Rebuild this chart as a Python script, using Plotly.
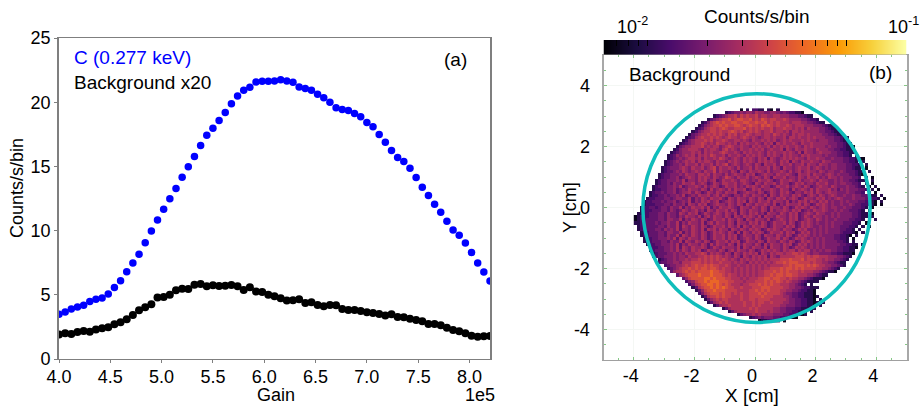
import plotly.graph_objects as go
import math

W, H = 922, 407

gain = [4.0 + 0.06 * i for i in range(71)]
carbon = [3.48,3.66,3.9,4.05,4.18,4.47,4.65,4.75,5.06,5.56,6.1,6.8,7.48,8.15,9.06,9.97,10.83,11.66,
          12.48,13.27,14.15,14.98,15.77,16.62,17.43,17.97,18.57,19.2,19.87,20.49,20.94,21.17,21.58,
          21.64,21.64,21.66,21.74,21.66,21.56,21.19,21.06,20.94,20.62,20.34,20.0,19.56,19.43,19.35,
          19.12,18.86,18.42,18.08,17.48,16.88,16.23,15.69,15.38,14.86,14.13,13.38,12.73,12.05,11.43,
          10.73,10.05,9.64,9.04,8.29,7.48,6.78,6.08]
background = [1.9,2.0,1.95,2.1,2.18,2.13,2.29,2.39,2.47,2.7,2.86,3.09,3.43,3.79,4.03,4.26,4.78,4.83,
              5.0,5.35,5.48,5.45,5.79,5.84,5.66,5.74,5.69,5.71,5.77,5.66,5.38,5.58,5.25,5.22,5.0,4.88,
              4.73,4.55,4.57,4.65,4.36,4.42,4.21,4.1,4.21,4.18,3.9,3.82,3.82,3.74,3.64,3.58,3.51,3.38,
              3.48,3.27,3.25,3.14,3.04,2.94,2.73,2.73,2.62,2.44,2.26,2.16,2.0,1.82,1.74,1.77,1.79]
x_ticks_a = [4, 4.5, 5, 5.5, 6, 6.5, 7, 7.5, 8]
x_labels_a = ["4.0", "4.5", "5.0", "5.5", "6.0", "6.5", "7.0", "7.5", "8.0"]
y_ticks_a = [0, 5, 10, 15, 20, 25]
ticks_b = [-4, -2, 0, 2, 4]
labels_b = ["-4", "-2", "0", "2", "4"]

# counts per bin: one digit per 0.1 cm cell, top row first
level_counts = [0.007,0.010,0.013,0.016,0.020,0.025,0.031,0.038,0.047,0.060]
map_x = [-3.95 + 0.1 * j for j in range(84)]
map_y = [3.25 - 0.1 * i for i in range(71)]
map_rows = [
 "."*35 + "0.1.2211.10.1",
 "."*30 + "12344545546554455434322110",
 "."*26 + "123456675767667566556655544433211",
 "."*24 + "1345677867887786768767766765555443221.",
 "."*22 + "12467878778877887787786767666566655443211",
 "."*21 + "124567787877887678776878767667656665554443211",
 "."*20 + "12356776787667778676767667566766565646555443211",
 "."*19 + "1245667767667876756767656675665646656555554433211",
 "."*18 + "134566767676576756676566566576565465665655554433211",
 "."*17 + "123567667676567665676565456656556466565565655544433211",
 "."*16 + "1245666767566765566565465565656456565556565545554433211",
 "."*15 + "123456676565766565646565565465636565565465565555544433211",
 "."*14 + "13455666756566456765565546565564656565565465655554544332110",
 "."*13 + "124556665465665467565465565656456556365465565546555443322110",
 "."*12 + "1234555656465655676556546565565465655656546365545655544332211.",
 "."*11 + "1235456564656576556465565465656546565465655465655554544433221.1.",
 "."*11 + "12345456656465565765456546565465636545656565546556554454443322110",
 "."*10 + "1234545656465665465546565465654656565465636546556554655444433221.1.",
 "."*10 + "12344546556465564656745654565465365564655645564655465545544433221.1",
 "."*9 + "123444565465564567465565464556465556465365545655645654545544433211.0",
 "."*9 + "1233454654565465574655465365465565464556546456456554654554454333211.1",
 "."*8 + "12334445465546656465546456554656345655465565436556465545654544433210.",
 "."*8 + "1233445345654656546545765465564565465365564554654655645465545444332.1.0",
 "."*7 + "123344454635546564563465565466545465565346556546455654655445454433211..1",
 "."*7 + "12334354465564565346546655645654365465564655346564554655644545544332.1.0",
 "."*6 + "1233344546345565464565346556454656546553465564565465345655465444544321.0.1",
 "."*6 + "12233445345465546536456546465563465645565465536456546465556453545444332.1.0",
 "."*5 + "12334344534556465346546546556345655465346546564355465646545655444544332.1.0.",
 "."*5 + "122334344546345465564564654355465465546365465546564356546545654454454433211.1",
 "....122333 4434554463 5465465564 3654655465 4653654656 4565346554 6564545654 4454443322 1.0",
 "...1223334 3445345463 5465645634 5654656365 4655646554 6354656465 4656454454 5444332210 .1",
 "...1222333 4435445365 4656345655 4654653654 6556546354 6555646534 6565454454 4543322110 .0",
 "..12233234 4354463546 5564635465 5654365546 5465365546 5346565465 4565455445 4433321.0",
 "..12223334 4354346545 6453654655 6465365465 5465364556 5465634546 5565445454 433321.0.",
 ".112233344 3544365465 6346545654 6546365465 6453655465 4656345654 6554454544 4433211.0",
 "0122233344 3544354655 4635646554 6536546565 4636554655 4656346546 5545454544 4433211.1.",
 "0122333344 3554463546 5465346556 4654653654 6554634565 4656345654 6545445444 433221.0.1",
 "1122333434 4544635465 5463564655 4653655465 6465346556 4653465654 5445454443 33221.0",
 ".122333344 3544636546 5465346556 4654636546 5565346554 6563465654 4545454433 3221.1.0",
 ".122333443 5454635546 5463656465 5365465465 6534656546 5534656445 4545444433 221.1",
 "..12233344 3554463546 5465346565 4653636546 5653465564 6563465645 4545444432 2210.1",
 "..12233344 3544636546 5465346556 4656346554 6536554654 6534656545 4544443322 10.1",
 "...1223344 4546365465 5465346556 4656345654 6534655646 5346565454 5454443322 1.0",
 "...1223334 4354463654 6546534655 6465634655 4653655465 4653465654 5454444332 1.1",
 "....122334 4454635465 5465364655 4653646554 6536465546 5634656454 5454444433 2211.1",
 ".....12233 4454636546 5565346546 5554636546 5546365546 5346565454 5454444332 2110",
 ".....12333 4454646546 5634655465 3564655465 3465656546 5664656645 4545544332 211",
 "......1233 3445454655 6676465654 6536546565 6365465665 6677676545 5444433221 110",
 "......1233 4445455465 5667676765 6546536546 5656365466 6667776767 7666555443 21",
 "........12 3445455656 6767676767 6565465656 5656566677 7877786777 6656554432 1",
 "........23 3445546667 7767676676 6656565465 6565656778 7888777767 6655443211",
 ".......... 2344556767 8778787766 7655655656 5656566667 7878887878 7665544321",
 ".......... .234567787 8788788767 6656565656 5656677787 8878787777 66554321",
 ".......... ..35667878 7888898877 6656565656 5667778787 8777676665 5432110",
 ".......... ....356788 8988898887 6766565656 5667787887 8877666554 3211",
 ".......... ......3578 8889989888 7766656566 6778878877 6766554321 110",
 ".......... .......245 7889899988 8776665666 7778787876 7655432111 1.",
 ".......... ........24 6788998987 8766656677 7878787766 6554321.1.",
 ".......... .........1 3678898989 8776676667 7788877776 6554432211 1",
 ".......... .......... 1357889888 7777666677 8787877766 5544322110",
 ".......... .......... .246788878 7767676677 7878777765 4433221110",
 ".......... .......... ..13677878 7766676677 7787776665 5433221110 1",
 ".......... .......... ...1356767 7666676677 6777766666 5443322110 .1",
 ".......... .......... ....135676 7666667667 6776676665 5443322110 1.1",
 ".......... .......... ......1356 6766667667 6766666655 4443322110 .1",
 ".......... .......... .........1 3566666676 7666665544 3332211101",
 ".......... .......... .......... .135666666 7666565544 3322110.1",
 ".......... .......... .......... ....134556 5655554443 3221101",
 ".......... .......... .......... ........12 3434443322 1100",
 ".......... .......... .......... .......... .0112211.0",
]
bar_ticks = [0.007,0.008,0.009,0.01,0.02,0.03,0.04,0.05,0.06,0.07,0.08,0.09,0.1]
bar_min, bar_max = 0.006, 0.2
circle_x, circle_y, circle_r = 0.05, -0.02, 3.75

z = []
for row in map_rows:
    row = row.replace(" ", "").ljust(84, ".")[:84]
    z.append([None if c == "." else math.log10(level_counts[int(c)]) for c in row])

log_min, log_max = math.log10(bar_min), math.log10(bar_max)
ramp = [log_min + (log_max - log_min) * (i + 0.5) / 300 for i in range(300)]

FONT = "Liberation Sans, Arial, Helvetica, sans-serif"
GREY = "#7f7f7f"
TICKG = "#86c886"

fig = go.Figure()
fig.add_trace(go.Scatter(x=gain, y=background, mode="markers", xaxis="x", yaxis="y",
                         marker=dict(color="black", size=8), showlegend=False))
fig.add_trace(go.Scatter(x=gain, y=carbon, mode="markers", xaxis="x", yaxis="y",
                         marker=dict(color="#0000ff", size=7.5), showlegend=False))
fig.add_trace(go.Heatmap(x=map_x, y=map_y, z=z, xaxis="x2", yaxis="y2", colorscale="Inferno",
                         zmin=log_min, zmax=log_max, hoverongaps=False, showscale=False))
fig.add_trace(go.Heatmap(x=ramp, y=[0.5], z=[ramp], xaxis="x3", yaxis="y3", colorscale="Inferno",
                         zmin=log_min, zmax=log_max, showscale=False))

fig.add_shape(type="circle", xref="x2", yref="y2", x0=circle_x-circle_r, x1=circle_x+circle_r,
              y0=circle_y-circle_r, y1=circle_y+circle_r, line=dict(color="#10bdbb", width=3.5))

def note(px, py, text, size=19, color="black", anchor="center", angle=0):
    fig.add_annotation(xref="paper", yref="paper", x=px/W, y=1-py/H, text=text, showarrow=False,
                       xanchor=anchor, yanchor="middle", textangle=angle,
                       font=dict(family=FONT, size=size, color=color))

note(72, 58, "C (0.277 keV)", color="#0000ff", anchor="left")
note(72, 82, "Background x20", anchor="left")
note(455, 59, "(a)")
note(17, 188, "Counts/s/bin", size=18, angle=-90)
note(276, 395, "Gain", size=18)
note(480, 395, "1e5", size=18)
note(757, 17, "Counts/s/bin")
note(632, 26, "10<sup>-2</sup>", size=18)
note(903, 26, "10<sup>-1</sup>", size=18)
note(627, 74, "Background", anchor="left")
note(880, 72, "(b)")
note(570, 208, "Y [cm]", size=18, angle=-90)
note(752, 395, "X [cm]")

tf = dict(family=FONT, size=18, color="black")
fig.update_layout(
    width=W, height=H, margin=dict(l=0, r=0, t=0, b=0, autoexpand=False),
    paper_bgcolor="white", plot_bgcolor="white", showlegend=False,
    font=dict(family=FONT, size=18, color="black"),
    xaxis=dict(domain=[59/W, 490/W], anchor="y", range=[4.0, 8.2], tickvals=x_ticks_a, ticktext=x_labels_a,
               ticks="outside", ticklen=3, tickcolor=GREY, tickwidth=1.2, showgrid=False, zeroline=False,
               showline=True, linecolor=GREY, linewidth=1.3, mirror=True, tickfont=tf, ticklabelstandoff=-2),
    yaxis=dict(domain=[1-359/H, 1-38/H], anchor="x", range=[0, 25], tickvals=y_ticks_a, ticks="outside",
               ticklen=3, tickcolor=GREY, tickwidth=1.2, showgrid=False, zeroline=False, showline=True,
               linecolor=GREY, linewidth=1.7, mirror=True, tickfont=tf),
    xaxis2=dict(domain=[603.5/W, 906.5/W], anchor="y2", range=[-5, 5], tickvals=ticks_b, ticktext=labels_b,
                ticks="inside", ticklen=3, tickcolor=TICKG, tickwidth=1, showgrid=True, gridcolor="#f4f7f4",
                zeroline=False, showline=True, linecolor="#a0a0a0", linewidth=1.2, mirror="allticks",
                ticklabelshift=-3, minor=dict(dtick=0.5, ticks="inside", ticklen=2, tickcolor=TICKG, showgrid=False),
                tickfont=tf, ticklabelstandoff=-1),
    yaxis2=dict(domain=[1-360/H, 1-55/H], anchor="x2", range=[-5, 5], tickvals=ticks_b, ticktext=labels_b,
                ticks="inside", ticklen=3, tickcolor=TICKG, tickwidth=1, showgrid=True, gridcolor="#f4f7f4",
                zeroline=False, showline=True, linecolor="#a8a8a8", linewidth=2, mirror="allticks",
                ticklabelstandoff=8, minor=dict(dtick=0.5, ticks="inside", ticklen=2, tickcolor=TICKG, showgrid=False),
                tickfont=tf),
    xaxis3=dict(domain=[603.5/W, 906.5/W], anchor="y3", side="top", range=[log_min, log_max],
                tickvals=[math.log10(v) for v in bar_ticks], ticks="inside", ticklen=6, tickcolor="black",
                tickwidth=1, showticklabels=False, showgrid=False, zeroline=False, showline=False),
    yaxis3=dict(domain=[1-54.5/H, 1-40/H], anchor="x3", range=[0, 1], showticklabels=False, ticks="",
                showgrid=False, zeroline=False, showline=False),
)

fig.write_html("out.html", config=dict(displayModeBar=False), post_script="document.body.style.margin='0';")
